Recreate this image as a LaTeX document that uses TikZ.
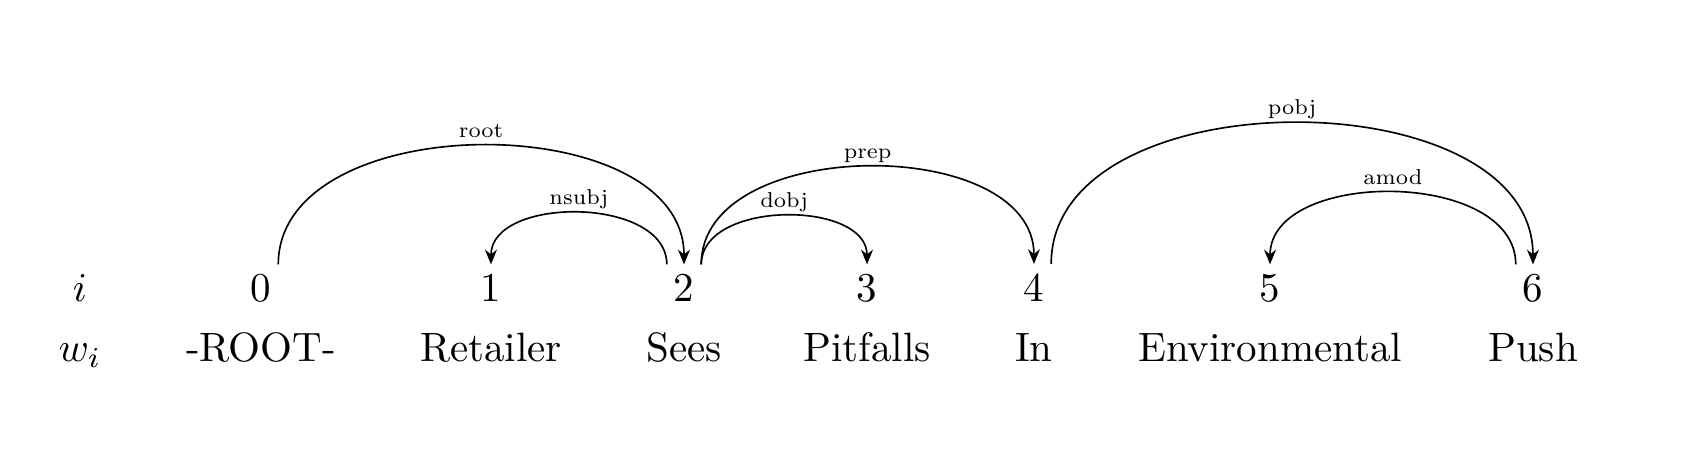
\documentclass[tikz,border=0pt]{standalone}
\usetikzlibrary{arrows.meta}
\begin{document}
\begin{tikzpicture}[
    idx/.style={anchor=base, inner sep=2.3pt},
    word/.style={anchor=base},
    arc/.style={-{Stealth[length=3.6pt, width=2.9pt]}, out=90, in=90},
    lbl/.style={font=\scriptsize, scale=0.75, transform shape, anchor=base, yshift=2.7pt, inner sep=0pt}
]
\useasboundingbox (0,0) rectangle (14.514, 4.038);

% Row labels
\node[idx] (ri) at (0.686, 1.449) {$i$};
\node[word] (rw) at (0.686, 0.943) {$w_i$};

% Indices
\node[idx] (n0) at (2.238, 1.449) {0};
\node[idx] (n1) at (4.209, 1.449) {1};
\node[idx] (n2) at (5.864, 1.449) {2};
\node[idx] (n3) at (7.433, 1.449) {3};
\node[idx] (n4) at (8.864, 1.449) {4};
\node[idx] (n5) at (10.888, 1.449) {5};
\node[idx] (n6) at (13.142, 1.449) {6};

% Words
\node[word] (w0) at (2.238, 0.943) {-ROOT-};
\node[word] (w1) at (4.209, 0.943) {Retailer};
\node[word] (w2) at (5.864, 0.943) {Sees};
\node[word] (w3) at (7.433, 0.943) {Pitfalls};
\node[word] (w4) at (8.864, 0.943) {In};
\node[word] (w5) at (10.888, 0.943) {Environmental};
\node[word] (w6) at (13.142, 0.943) {Push};

% Dependency arcs
\draw[arc] ([xshift=4.2pt]n0.north) to node[lbl] {root} (n2.north);
\draw[arc] ([xshift=-4.2pt]n2.north) to node[lbl] {nsubj} (n1.north);
\draw[arc] ([xshift=4.2pt]n2.north) to node[lbl] {dobj} (n3.north);
\draw[arc] ([xshift=4.2pt]n2.north) to node[lbl] {prep} (n4.north);
\draw[arc] ([xshift=4.2pt]n4.north) to node[lbl] {pobj} (n6.north);
\draw[arc] ([xshift=-4.2pt]n6.north) to node[lbl] {amod} (n5.north);

\end{tikzpicture}
\end{document}
